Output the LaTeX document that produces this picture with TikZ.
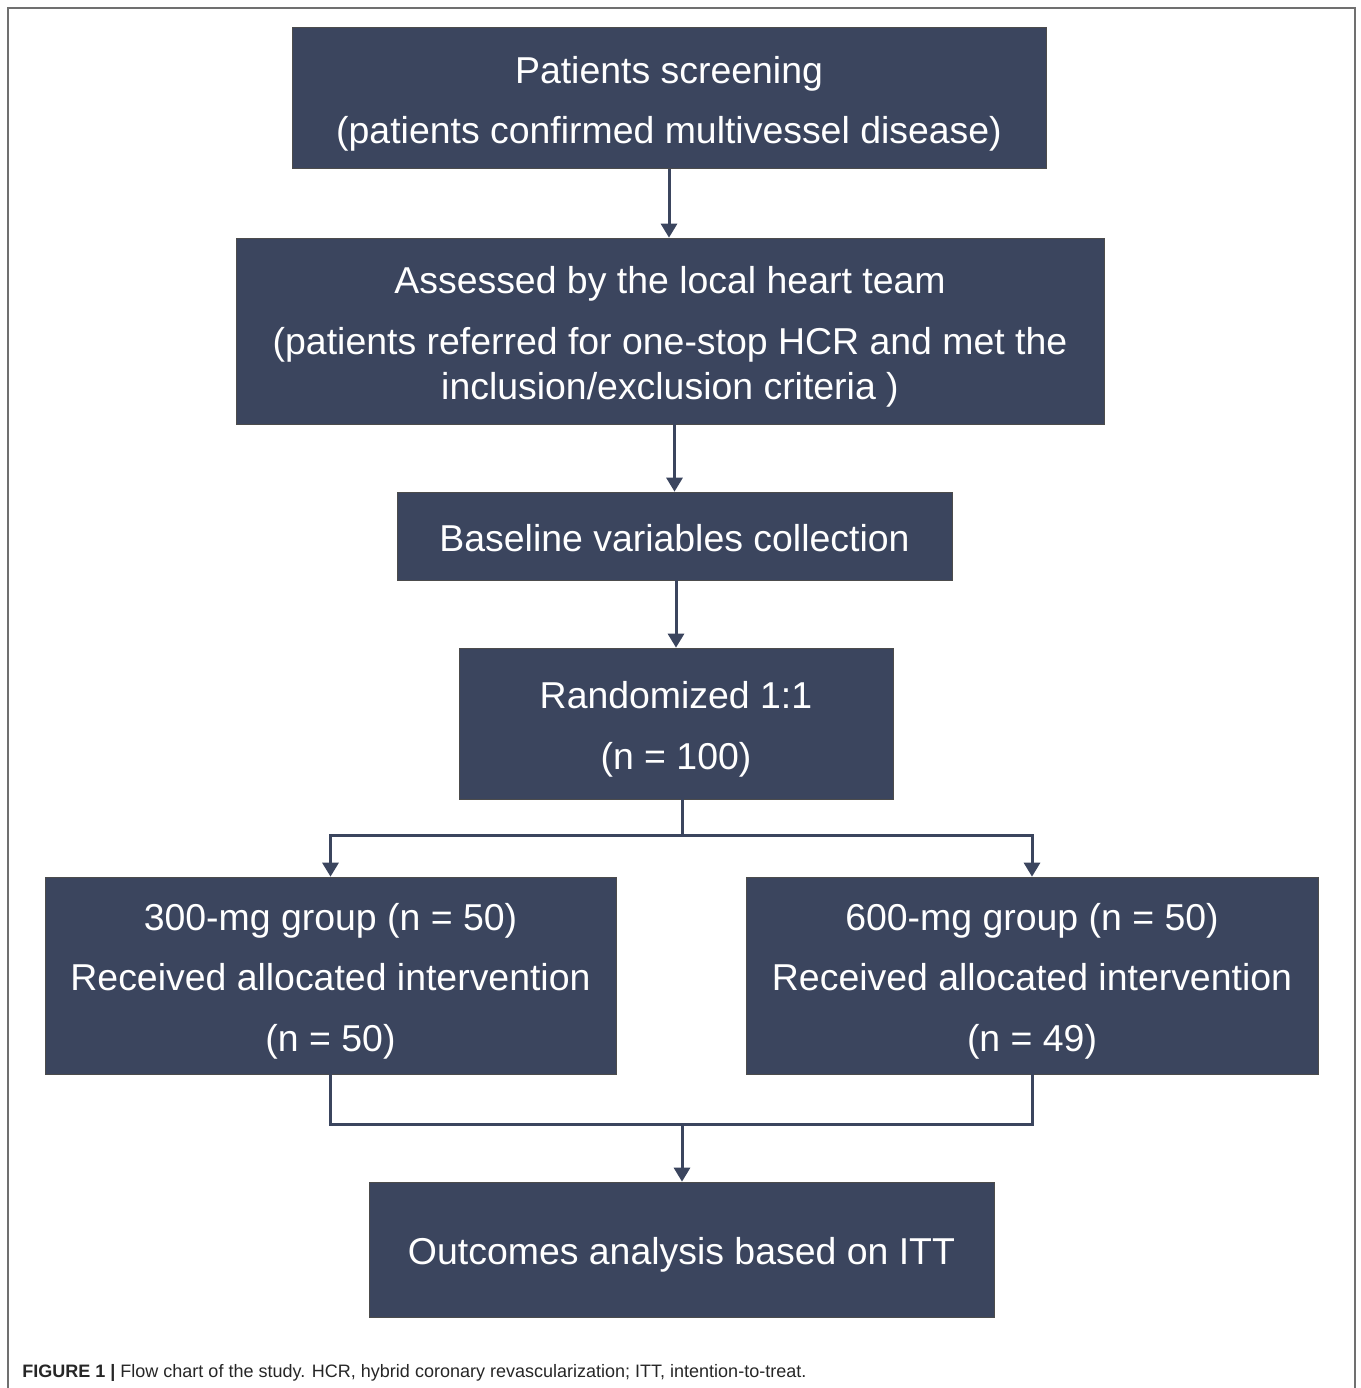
\documentclass[tikz,border=0pt]{standalone}
\usepackage{fontspec}
\setmainfont{Liberation Sans}
\usepackage{tikz}
\usepackage{xcolor}
\usetikzlibrary{arrows.meta}
\definecolor{boxnavy}{RGB}{59,69,94}
\definecolor{framegray}{RGB}{112,112,112}
\newcommand{\topstrut}{\rule{0pt}{22.2pt}}
\newcommand{\botstrut}{\rule[-4.6pt]{0pt}{0pt}}
\tikzset{
    flow-box/.style = {draw=gray!60!black, fill=boxnavy, text=white, thin, rectangle, inner sep=0pt, align=center, font=\fontsize{21.3pt}{25.6pt}\selectfont},
    flow-line/.style = {draw=boxnavy, line width=0.06cm},
    flow-arrow/.style = {flow-line, -{Triangle[width=0.32cm,length=0.28cm]}},
    caption-text/.style = {font=\fontsize{10.25pt}{12pt}\selectfont, text=black!85, inner sep=0pt, anchor=base west},
}

\begin{document}
\begin{tikzpicture}[x=0.02cm, y=-0.02cm]
\useasboundingbox (0,0) rectangle (1360,1388);
\draw[framegray, line width=0.04cm] (8,1388) -- (8,8) -- (1355,8) -- (1355,1388);

\node[flow-box, minimum width=15.08cm, minimum height=2.82cm] (screening) at (669,98) {\topstrut Patients screening\\[9pt](patients confirmed multivessel disease)\botstrut};
\node[flow-box, minimum width=17.36cm, minimum height=3.72cm] (assessed) at (670,331) {\topstrut Assessed by the local heart team\\[9pt](patients referred for one-stop HCR and met the\\inclusion/exclusion criteria )\botstrut};
\node[flow-box, minimum width=11.10cm, minimum height=1.76cm] (baseline) at (674.5,536) {\topstrut Baseline variables collection\botstrut};
\node[flow-box, minimum width=8.68cm, minimum height=3.02cm] (random) at (676,723.5) {\topstrut Randomized 1:1\\[9pt](n = 100)\botstrut};
\node[flow-box, minimum width=11.42cm, minimum height=3.94cm] (low-dose) at (330.5,975.5) {\topstrut 300-mg group (n = 50)\\[9pt]Received allocated intervention\\[9pt](n = 50)\botstrut};
\node[flow-box, minimum width=11.44cm, minimum height=3.94cm] (high-dose) at (1032,975.5) {\topstrut 600-mg group (n = 50)\\[9pt]Received allocated intervention\\[9pt](n = 49)\botstrut};
\node[flow-box, minimum width=12.50cm, minimum height=2.70cm] (outcomes) at (681.5,1249.5) {\topstrut Outcomes analysis based on ITT\botstrut};

\coordinate (split) at (682,835);
\coordinate (merge) at (682,1124);

\draw[flow-arrow] (screening.south) -- (screening.south |- assessed.north);
\draw[flow-arrow] (assessed.south -| baseline.north) -- (baseline.north);
\draw[flow-arrow] (baseline.south -| random.north) -- (random.north);
\draw[flow-line] (random.south -| split) -- (split);
\draw[flow-arrow] (split) -| (low-dose.north);
\draw[flow-arrow] (split) -| (high-dose.north);
\draw[flow-line] (low-dose.south) |- (merge);
\draw[flow-line] (high-dose.south) |- (merge);
\draw[flow-arrow] (merge) -- (merge |- outcomes.north);

\node[caption-text] (caption) at (22,1377) {\textbf{FIGURE 1 |} Flow chart of the study. HCR, hybrid coronary revascularization; ITT, intention-to-treat.};
\end{tikzpicture}
\end{document}
